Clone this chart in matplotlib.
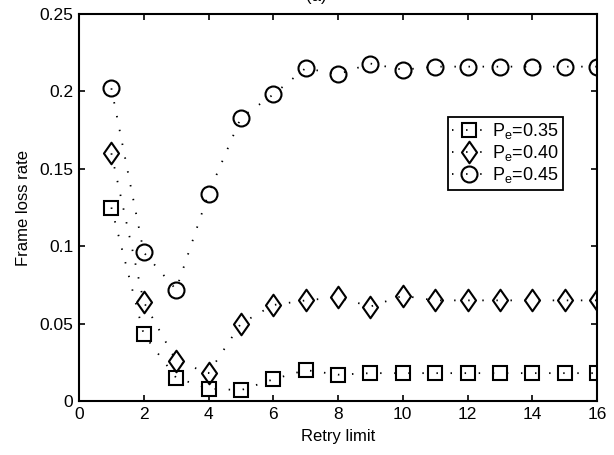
import numpy as np
import matplotlib
matplotlib.use('Agg')
import matplotlib.pyplot as plt
from matplotlib.path import Path

plt.rcParams['font.family'] = ['Liberation Sans', 'DejaVu Sans']
plt.rcParams['mathtext.fontset'] = 'custom'
plt.rcParams['mathtext.rm'] = 'Liberation Sans'
plt.rcParams['mathtext.it'] = 'Liberation Sans'

retry = np.arange(1, 17)
pe035 = [0.125, 0.043, 0.015, 0.008, 0.007, 0.014, 0.020, 0.017,
         0.018, 0.018, 0.018, 0.018, 0.018, 0.018, 0.018, 0.018]
pe040 = [0.160, 0.064, 0.026, 0.018, 0.050, 0.062, 0.065, 0.067,
         0.061, 0.068, 0.065, 0.065, 0.065, 0.065, 0.065, 0.065]
pe045 = [0.202, 0.096, 0.072, 0.134, 0.183, 0.198, 0.215, 0.211,
         0.218, 0.214, 0.216, 0.216, 0.216, 0.216, 0.216, 0.216]
labels = [r'P$_\mathrm{e}$=0.35', r'P$_\mathrm{e}$=0.40', r'P$_\mathrm{e}$=0.45']

# matlab-like diamond (wider than mpl's thin diamond)
diamond = Path([(0, 1), (0.7, 0), (0, -1), (-0.7, 0), (0, 1)],
               [Path.MOVETO, Path.LINETO, Path.LINETO, Path.LINETO, Path.CLOSEPOLY])

fig = plt.figure(figsize=(6.14, 4.55), dpi=100)
ax = fig.add_axes([79/614, 1-401/455, 518/614, 387/455])

dots = (0, (0.8, 7))
ax.plot(retry, pe035, linestyle=dots, color='k', lw=1.3, marker='s', ms=9.5,
        mfc='none', mec='k', mew=1.5, label=labels[0])
ax.plot(retry, pe040, linestyle=dots, color='k', lw=1.3, marker=diamond, ms=15.5,
        mfc='none', mec='k', mew=1.5, label=labels[1])
ax.plot(retry, pe045, linestyle=dots, color='k', lw=1.3, marker='o', ms=11.5,
        mfc='none', mec='k', mew=1.5, label=labels[2])

ax.set_xlim(0, 16)
ax.set_ylim(0, 0.25)
ax.set_xticks(np.arange(0, 17, 2))
ax.set_yticks([0, 0.05, 0.1, 0.15, 0.2, 0.25])
ax.set_yticklabels(['0', '0.05', '0.1', '0.15', '0.2', '0.25'])
ax.tick_params(direction='in', length=4, width=1.2, labelsize=12.5,
               top=True, right=True, colors='k', pad=4)
for s in ax.spines.values():
    s.set_linewidth(1.5)
ax.set_xlabel('Retry limit', fontsize=12, labelpad=5)
ax.set_ylabel('Frame loss rate', fontsize=12, labelpad=6)

leg = ax.legend(loc='upper left', bbox_to_anchor=(0.712, 0.735), fontsize=13,
                handlelength=1.9, handletextpad=0.3, borderpad=0.25,
                labelspacing=0.12, borderaxespad=0, fancybox=False,
                framealpha=1, edgecolor='k')
leg.get_frame().set_linewidth(1.3)

# title is mostly cropped off in the original figure
fig.text(316/614, 1+4/455, '(a)', ha='center', va='center', fontsize=12)

fig.savefig('out.png', dpi=100)
